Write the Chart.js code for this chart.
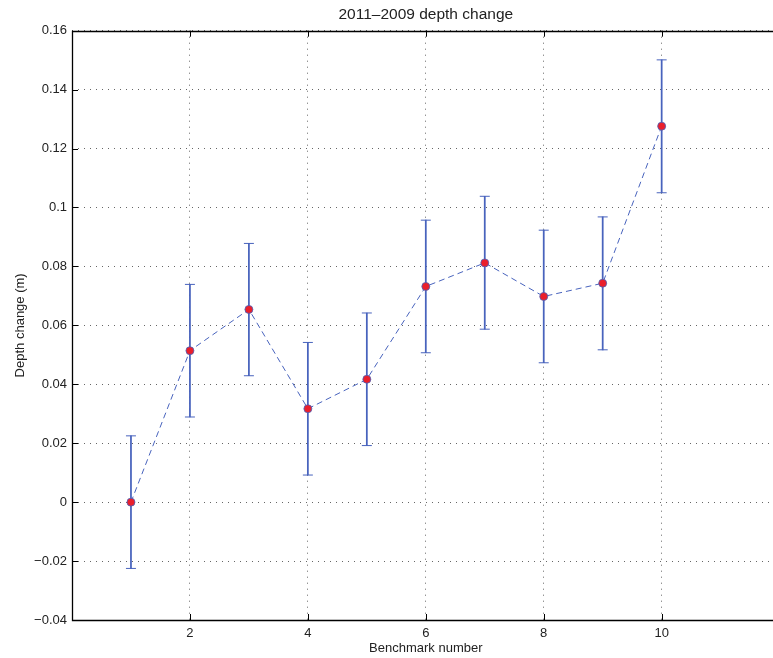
<!DOCTYPE html>
<html>
<head>
<meta charset="utf-8">
<script src="https://cdn.jsdelivr.net/npm/chart.js@4/dist/chart.umd.min.js"></script>
<style>
html, body { margin: 0; padding: 0; overflow: hidden; background: #fff; width: 773px; height: 658px; }
canvas { display: block; }
</style>
</head>
<body>
<canvas id="c" width="792" height="658"></canvas>
<script>
// ---- data ----
const benchmarks = [1, 2, 3, 4, 5, 6, 7, 8, 9, 10];
const depthChange = [0.0000, 0.0514, 0.0654, 0.0317, 0.0417, 0.0732, 0.0812, 0.0698, 0.0743, 0.1276];
const errorLow  = [-0.0225, 0.0289, 0.0429, 0.0092, 0.0192, 0.0507, 0.0587, 0.0473, 0.0517, 0.1050];
const errorHigh = [ 0.0225, 0.0739, 0.0878, 0.0542, 0.0642, 0.0957, 0.1038, 0.0923, 0.0968, 0.1501];
const xTickLabels = [2, 4, 6, 8, 10];
const titleText = '2011\u20132009 depth change';
const xTitle = 'Benchmark number';
const yTitle = 'Depth change (m)';

const BLUE = '#4863bd';
const RED = '#ea1f2b';
const FONT = 'Liberation Sans, Arial, Helvetica, sans-serif';

// inward ticks and box, MATLAB style (right side lies outside the window)
const boxPlugin = {
  id: 'boxPlugin',
  afterDatasetsDraw(chart) {
    const {ctx, chartArea: a, scales: {x, y}} = chart;
    ctx.save();
    ctx.strokeStyle = '#000';
    ctx.lineWidth = 1;
    const L = 6;
    ctx.beginPath();
    y.ticks.forEach(t => {
      const py = Math.round(y.getPixelForValue(t.value)) + 0.5;
      ctx.moveTo(a.left, py); ctx.lineTo(a.left + L, py);
    });
    x.ticks.forEach(t => {
      const px = Math.round(x.getPixelForValue(t.value)) + 0.5;
      ctx.moveTo(px, a.bottom); ctx.lineTo(px, a.bottom - L);
      ctx.moveTo(px, a.top); ctx.lineTo(px, a.top + L);
    });
    ctx.stroke();
    ctx.lineWidth = 1.3;
    const l = Math.round(a.left) + 0.5, t = Math.round(a.top) + 0.5, b = Math.round(a.bottom) + 0.5;
    ctx.beginPath();
    ctx.moveTo(a.right, t); ctx.lineTo(l, t); ctx.lineTo(l, b); ctx.lineTo(a.right, b);
    ctx.stroke();
    ctx.restore();
  }
};

const fmtY = v => {
  const r = Math.round(v * 100) / 100;
  if (r === 0) return '0';
  return (r < 0 ? '\u2212' : '') + String(Math.abs(r));
};

const capPoints = [];
benchmarks.forEach((b, i) => {
  capPoints.push({x: b, y: errorLow[i]});
  capPoints.push({x: b, y: errorHigh[i]});
});

new Chart(document.getElementById('c'), {
  type: 'bar',
  data: {
    datasets: [
      {
        type: 'line',
        label: 'depth change',
        data: benchmarks.map((b, i) => ({x: b, y: depthChange[i]})),
        borderColor: BLUE,
        borderWidth: 1,
        borderDash: [6, 4],
        pointRadius: 4,
        pointBackgroundColor: RED,
        pointBorderColor: BLUE,
        pointBorderWidth: 0.8,
        fill: false,
        tension: 0,
        order: 1
      },
      {
        type: 'line',
        label: 'caps',
        data: capPoints,
        showLine: false,
        pointStyle: 'line',
        pointRadius: 5,
        pointBorderColor: BLUE,
        pointBorderWidth: 1,
        order: 2
      },
      {
        type: 'bar',
        label: 'error',
        data: benchmarks.map((b, i) => ({x: b, y: [errorLow[i], errorHigh[i]]})),
        backgroundColor: BLUE,
        borderWidth: 0,
        barThickness: 1.1,
        order: 3
      }
    ]
  },
  options: {
    responsive: false,
    animation: false,
    events: [],
    layout: { padding: { left: 0, right: 12.4, top: 0, bottom: 0 } },
    plugins: {
      legend: { display: false },
      tooltip: { enabled: false },
      title: {
        display: true,
        fullSize: false,
        text: titleText,
        color: '#222',
        font: { family: FONT, size: 15.5, weight: 'normal', lineHeight: 1.2 },
        padding: { top: 5.8, bottom: 6.3 }
      }
    },
    scales: {
      x: {
        type: 'linear',
        min: 0, max: 12,
        offset: false,
        afterFit(s) { s.height = 38; },
        afterBuildTicks(s) { s.ticks = [0, 2, 4, 6, 8, 10, 12].map(v => ({value: v})); },
        ticks: {
          color: '#222',
          padding: 6,
          maxRotation: 0,
          autoSkip: false,
          font: { family: FONT, size: 13 },
          callback: v => xTickLabels.includes(v) ? String(v) : ''
        },
        grid: { color: '#666', lineWidth: 1, drawTicks: false, offset: false },
        border: { display: false, dash: [1, 5] },
        title: {
          display: true, text: xTitle, color: '#222',
          font: { family: FONT, size: 13 },
          padding: { top: 0, bottom: 2 }
        }
      },
      y: {
        type: 'linear',
        min: -0.04, max: 0.16,
        afterFit(s) { s.width = 72; },
        ticks: {
          stepSize: 0.02,
          color: '#222',
          padding: 5,
          font: { family: FONT, size: 13 },
          callback: v => fmtY(v)
        },
        grid: { color: '#666', lineWidth: 1, drawTicks: false },
        border: { display: false, dash: [1, 5] },
        title: {
          display: true, text: yTitle, color: '#222',
          font: { family: FONT, size: 13 },
          padding: { top: 12.5, bottom: 0 }
        }
      }
    }
  },
  plugins: [boxPlugin]
});
</script>
</body>
</html>
